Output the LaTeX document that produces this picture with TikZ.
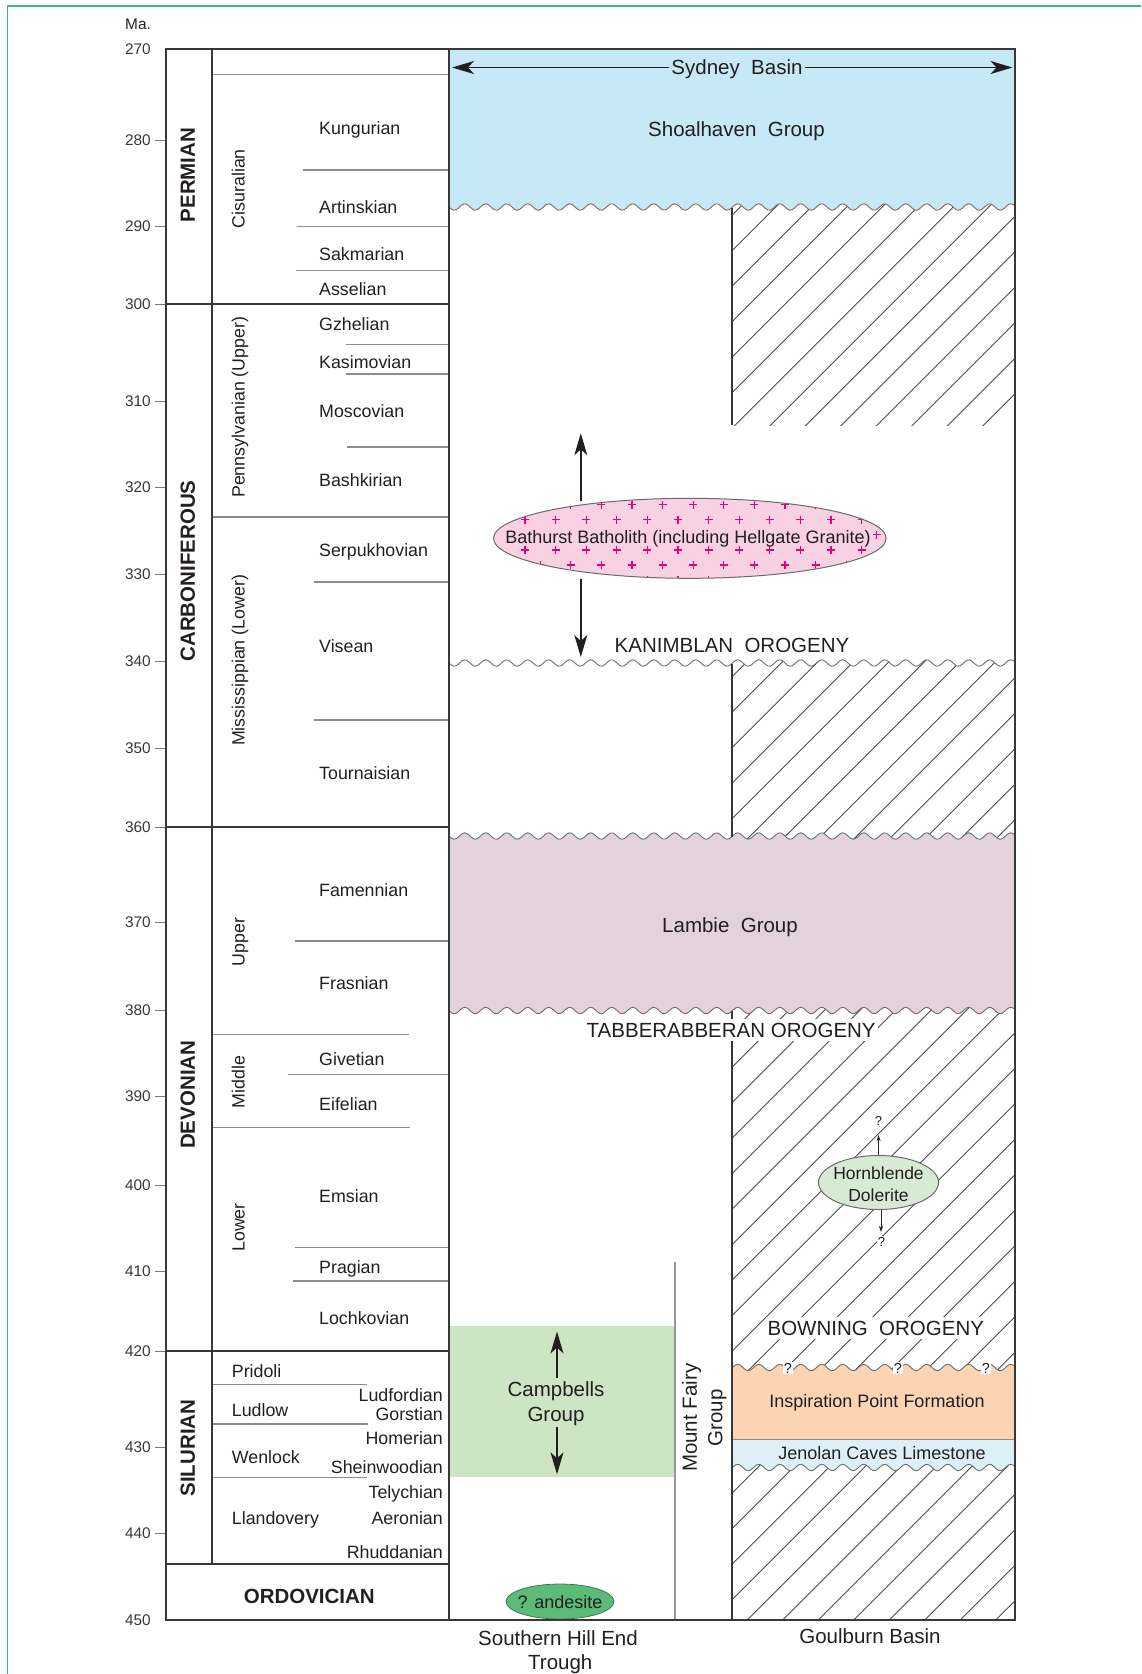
\documentclass[tikz,border=0pt]{standalone}
\usepackage{fontspec}
\setmainfont{Liberation Sans}
\usetikzlibrary{arrows.meta,shapes.geometric}
\definecolor{txt}{HTML}{231F20}
\definecolor{framec}{HTML}{3DB87E}
\definecolor{boxc}{HTML}{383838}
\definecolor{greyc}{HTML}{8C8C8C}
\definecolor{tickc}{HTML}{7A7A7A}
\definecolor{sydney}{HTML}{C6E8F7}
\definecolor{lambie}{HTML}{E3D2DB}
\definecolor{bathf}{HTML}{F8D1E3}
\definecolor{bathx}{HTML}{E6007E}
\definecolor{hornf}{HTML}{D7EBD4}
\definecolor{campf}{HTML}{CDE5C3}
\definecolor{inspf}{HTML}{FBD4B3}
\definecolor{jenf}{HTML}{DDF0F8}
\definecolor{andf}{HTML}{5CBB78}
\definecolor{andb}{HTML}{3D7A50}
\definecolor{wavec}{HTML}{6E6E6E}
\definecolor{hatchc}{HTML}{4A4A4A}
\definecolor{ellc}{HTML}{6A6A6A}
\newcommand\fsz[1]{\fontsize{#1pt}{#1pt}\selectfont}
\newcommand\wave[4]{plot[domain=#1:#2,samples=#4] (\x,{#3+3.2*sin(17.142857*(\x-449))})}
\newcommand\lwave[4]{-- plot[domain=#1:#2,samples=#4] (\x,{#3+3.2*sin(17.142857*(\x-449))})}
\newcommand\hatchlines{\foreach \k in {-37,...,12}{\draw[hatchl] (732,{2225.3+35.5*\k-732}) -- (1015,{2225.3+35.5*\k-1015});}}
\tikzset{
  lbl/.style={inner sep=0pt, text=txt, font=\fsz{#1}, text height={0.72*#1pt}, text depth=0pt},
  lblb/.style={lbl=#1, font=\fsz{#1}\bfseries},
  hatchl/.style={draw=hatchc, line width=0.9pt},
  wavel/.style={draw=wavec, line width=0.9pt},
  boxline/.style={draw=boxc, line width=2.2pt},
  perline/.style={draw=boxc, line width=2pt},
  stline/.style={draw=greyc, line width=1.2pt},
  tickl/.style={draw=tickc, line width=1pt},
  gline/.style={draw=boxc, line width=1.5pt},
  bigarr/.style={draw=txt, line width=1.4pt, -{Stealth[length=22pt,width=13pt,inset=6pt]}},
  smallarr/.style={draw=txt, line width=0.7pt, -{Stealth[length=6pt,width=4pt]}},
  crossc/.style={draw=bathx, line width=1.2pt},
  wbg/.style={fill=white, inner xsep=2pt, inner ysep=4pt}
}
\begin{document}
\begin{tikzpicture}[x=1pt,y=-1pt]
\useasboundingbox (0,0) rectangle (1141,1674);
% frame
\draw[framec, line width=1.2pt] (7.3,1674) -- (7.3,6) -- (1141,6);
% hatching
\begin{scope}\clip (732,195) rectangle (1015,425); \hatchlines \end{scope}
\begin{scope}\clip \wave{732}{1015}{663}{140} -- (1015,845) -- (732,845) -- cycle; \hatchlines \end{scope}
\begin{scope}\clip (732,1000) rectangle (1015,1380); \hatchlines \end{scope}
\begin{scope}\clip (732,1460) rectangle (1015,1620); \hatchlines \end{scope}
% fills
\fill[sydney] (449,49) -- (1015,49) \lwave{1015}{449}{207}{260} -- cycle;
\fill[lambie] \wave{449}{1015}{836}{260} \lwave{1015}{449}{1010.5}{260} -- cycle;
\fill[campf] (449,1325.7) rectangle (674.7,1476.7);
\fill[inspf] \wave{732}{1015}{1367.5}{140} -- (1015,1439.3) -- (732,1439.3) -- cycle;
\fill[jenf] (732,1439.3) -- (1015,1439.3) \lwave{1015}{732}{1467.5}{140} -- cycle;
% waves
\draw[wavel] \wave{449}{1015}{207}{260};
\draw[wavel] \wave{449}{1015}{663}{260};
\draw[wavel] \wave{449}{1015}{836}{260};
\draw[wavel] \wave{449}{1015}{1010.5}{260};
\draw[wavel] \wave{732}{1015}{1367.5}{140};
\draw[wavel] \wave{732}{1015}{1467.5}{140};
\draw[draw=greyc, line width=1pt] (732,1439.3) -- (1015,1439.3);
% Goulburn boundary
\draw[gline] (732,207.5) -- (732,425) (732,663.5) -- (732,836.5) (732,1011) -- (732,1620);
% Mount Fairy line
\draw[draw=greyc!90, line width=1.6pt] (674.7,1261.7) -- (674.7,1620);
% Bathurst batholith
\node[ellipse, draw=ellc, fill=bathf, line width=1pt, minimum width=392.6pt, minimum height=80pt, inner sep=0pt] (bbe) at (689.8,538.3) {};
\begin{scope}
 \clip (bbe.center) ellipse [x radius=195.8pt, y radius=39.5pt];
 \foreach \j in {0,...,6}{
  \foreach \i in {-1,...,13}{
   \pgfmathsetmacro\cx{524.9+30.6*\i+15.3*mod(\j,2)}
   \pgfmathsetmacro\cy{489.5+15.1*\j}
   \pgfmathtruncatemacro\show{((\j==3)&&(\cx<868))?0:1}
   \ifnum\show=1
     \draw[crossc] (\cx-4,\cy) -- (\cx+4,\cy) (\cx,\cy-4) -- (\cx,\cy+4);
   \fi
  }
 }
\end{scope}
\node[lbl=18] (bb) at (688,537.3) {Bathurst Batholith (including Hellgate Granite)};
% Hornblende dolerite
\node[ellipse, draw=ellc, fill=hornf, line width=1pt, minimum width=120pt, minimum height=54pt, inner sep=0pt] (hde) at (878.5,1182.5) {};
\node[lbl=17.5] (hd1) at (878.5,1172.7) {Hornblende};
\node[lbl=17.5] (hd2) at (878.5,1195) {Dolerite};
% andesite
\node[ellipse, draw=andb, fill=andf, line width=0.8pt, minimum width=108pt, minimum height=35pt, inner sep=0pt] (ande) at (560,1601.5) {};
\node[lbl=18] (andt) at (560,1601.5) {? andesite};
% chart grid
\foreach \y in {140,226,304,401,487,574,661,748,827,922,1010,1096,1185,1271,1351,1447,1533}
  \draw[tickl] (155,\y) -- (165.7,\y);
\foreach \a/\b/\y in {212/449/74.7, 302.7/449/170, 296.7/449/226.7, 296/449/270.3,
  346/449/344.5, 346/449/374, 346.7/449/447, 212/449/517, 314/449/582, 314/449/720,
  294.5/449/941, 212/408.5/1034.5, 288/449/1074.5, 212/410/1127.5, 294.5/449/1247.5,
  293/449/1281, 212/366.7/1384.7, 212/367.7/1424, 212/367/1477.7}
  \draw[stline] (\a,\y) -- (\b,\y);
\draw[perline] (212,49) -- (212,1564);
\foreach \y in {304,827,1351,1564} \draw[perline] (165.7,\y) -- (449,\y);
\draw[boxline] (449,49) -- (449,1620);
\draw[boxline] (165.7,49) rectangle (1015,1620);
% axis labels
\node[lbl=15.4, anchor=west] (ma) at (125,24.3) {Ma.};
\foreach \v/\y in {270/49,280/140,290/226,300/304,310/401,320/487,330/574,340/661,350/748,
  360/827,370/922,380/1010,390/1096,400/1185,410/1271,420/1351,430/1447,440/1533,450/1620}
  \node[lbl=15.4, anchor=east, text=boxc] (t\v) at (151,\y) {\v};
% periods
\node[lblb=20.5, rotate=90] (per) at (187.5,175) {PERMIAN};
\node[lblb=20.5, rotate=90] (car) at (187.5,571) {CARBONIFEROUS};
\node[lblb=20.5, rotate=90] (dev) at (187.5,1094.7) {DEVONIAN};
\node[lblb=20.5, rotate=90] (sil) at (187.5,1448) {SILURIAN};
\node[lblb=20.5] (ord) at (309.3,1596) {ORDOVICIAN};
% epochs
\node[lbl=17.8, rotate=90] (e1) at (238.3,188.7) {Cisuralian};
\node[lbl=17.8, rotate=90] (e2) at (238.3,407.3) {Pennsylvanian (Upper)};
\node[lbl=17.8, rotate=90] (e3) at (238.3,660.4) {Mississippian (Lower)};
\node[lbl=17.8, rotate=90] (e4) at (238.3,942) {Upper};
\node[lbl=17.8, rotate=90] (e5) at (238.3,1081.8) {Middle};
\node[lbl=17.8, rotate=90] (e6) at (238.3,1227.5) {Lower};
% stages
\foreach \n/\y [count=\c] in {Kungurian/128.5, Artinskian/207, Sakmarian/254, Asselian/289.3,
  Gzhelian/323.8, Kasimovian/362, Moscovian/411.5, Bashkirian/480.2, Serpukhovian/550,
  Visean/645.8, Tournaisian/772.7, Famennian/890.3, Frasnian/983.3, Givetian/1059.2,
  Eifelian/1104.2, Emsian/1195.7, Pragian/1267, Lochkovian/1318.2}
  \node[lbl=17.8, anchor=west] (s\c) at (319,\y) {\n};
\foreach \n/\y [count=\c] in {Pridoli/1371, Ludlow/1410, Wenlock/1456.7, Llandovery/1518.3}
  \node[lbl=17.8, anchor=west] (ss\c) at (231.7,\y) {\n};
\foreach \n/\y [count=\c] in {Ludfordian/1395, Gorstian/1414.3, Homerian/1438.3,
  Sheinwoodian/1467.3, Telychian/1491.7, Aeronian/1518.3, Rhuddanian/1551.7}
  \node[lbl=17.8, anchor=east] (sr\c) at (443,\y) {\n};
% basin texts
\node[lbl=20.5, inner xsep=2.5pt] (sb) at (737,67.5) {Sydney\ \ Basin};
\coordinate (sbl) at (452,67.5);
\coordinate (sbr) at (1012.5,67.5);
\draw[bigarr] (sb.west) -- (sbl);
\draw[bigarr] (sb.east) -- (sbr);
\node[lbl=20.5] (sh) at (736.5,129.5) {Shoalhaven\ \ Group};
\node[lbl=20.5] (kan) at (732,645) {KANIMBLAN\ \ OROGENY};
\node[lbl=20.5] (lam) at (730,925) {Lambie\ \ Group};
\node[lbl=20.5, wbg] (tab) at (731.2,1030) {TABBERABBERAN OROGENY};
\node[lbl=20.5, wbg] (bow) at (875.8,1328) {BOWNING\ \ OROGENY};
\node[lbl=18] (ins) at (877,1401) {Inspiration Point Formation};
\node[lbl=18] (jen) at (882,1452.7) {Jenolan Caves Limestone};
\foreach \x [count=\c] in {787.8,898,986}
  \node[lbl=14.5, fill=white, inner sep=0.8pt] (qi\c) at (\x,1368) {?};
\node[lbl=20.5] (cg1) at (556,1389) {Campbells};
\node[lbl=20.5] (cg2) at (556,1413.7) {Group};
\node[lbl=20.5, rotate=90] (mf1) at (689.4,1417.8) {Mount Fairy};
\node[lbl=20.5, rotate=90] (mf2) at (715,1417.8) {Group};
\node[lbl=20.5] (shl1) at (558,1638.3) {Southern Hill End};
\node[lbl=20.5] (shl2) at (560.3,1662.3) {Trough};
\node[lbl=20.5] (gb) at (870,1636.5) {Goulburn Basin};
% hornblende question marks and arrows
\node[lbl=13, fill=white, inner sep=0.5pt] (hq1) at (878.4,1120.7) {?};
\node[lbl=13, fill=white, inner sep=0.5pt] (hq2) at (881.6,1241.5) {?};
\coordinate (hdu) at (878.5,1135);
\coordinate (hdd0) at (881,1209.5);
\coordinate (hdd) at (881,1232);
\draw[smallarr] (hde.north) -- (hdu);
\draw[smallarr] (hdd0) -- (hdd);
% batholith arrows
\coordinate (bbu0) at (580.8,500.7);
\coordinate (bbu1) at (580.8,433.3);
\coordinate (bbd0) at (580.8,578.7);
\coordinate (bbd1) at (580.8,657);
\draw[bigarr] (bbu0) -- (bbu1);
\draw[bigarr] (bbd0) -- (bbd1);
% campbells arrows
\coordinate (cgu0) at (557,1377.7);
\coordinate (cgu1) at (557,1331.5);
\coordinate (cgd0) at (557,1426.7);
\coordinate (cgd1) at (557,1474.3);
\draw[bigarr] (cgu0) -- (cgu1);
\draw[bigarr] (cgd0) -- (cgd1);
\end{tikzpicture}
\end{document}
